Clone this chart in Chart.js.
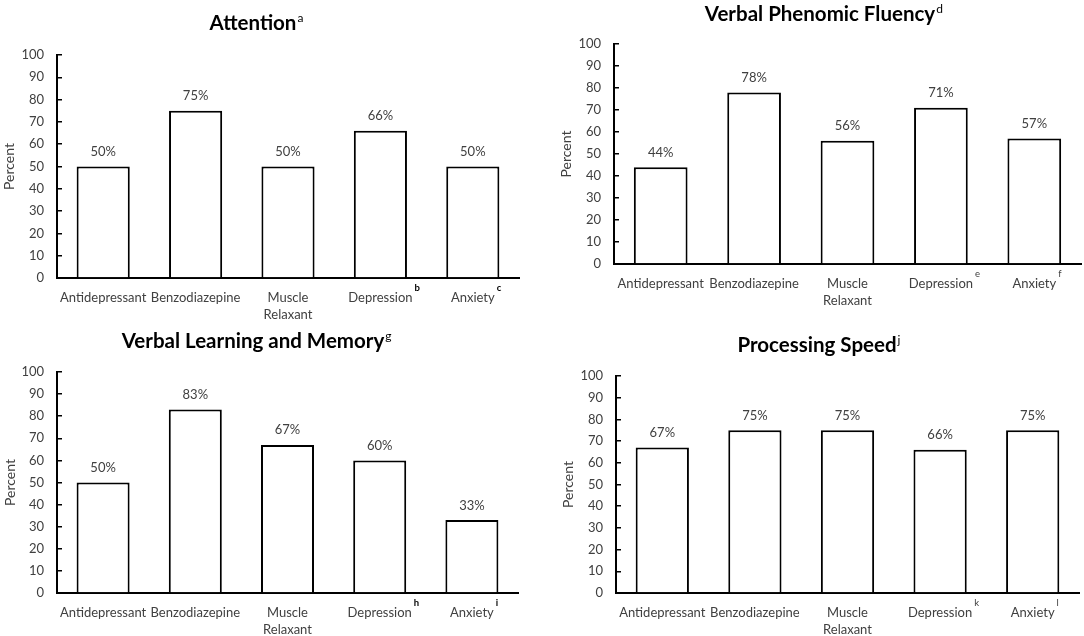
<!DOCTYPE html>
<html>
<head>
<meta charset="utf-8">
<script src="https://cdn.jsdelivr.net/npm/chart.js@4.4.1/dist/chart.umd.min.js"></script>
<style>
  html, body { margin: 0; padding: 0; background: #fff; }
  #wrap { position: relative; width: 1084px; height: 636px; overflow: hidden; background: #fff; }
  .panel { position: absolute; }
  .title { position: absolute; width: 0; height: 24px; font-family: Lato, "Open Sans", sans-serif;
           font-weight: 700; font-size: 20.5px; color: #000; white-space: nowrap; line-height: 1; }
  .title .main { position: absolute; left: 0; top: 0; transform: translateX(-50%); }
  .title .sup { position: absolute; left: 100%; top: 0px; margin-left: 1px; font-size: 12px; font-weight: 400; }
</style>
</head>
<body>
<div id="wrap">
  <div class="panel" style="left:0;top:0;width:540px;height:330px"><canvas id="c1"></canvas></div>
  <div class="panel" style="left:540px;top:0;width:544px;height:330px"><canvas id="c2"></canvas></div>
  <div class="panel" style="left:0;top:318px;width:540px;height:318px"><canvas id="c3"></canvas></div>
  <div class="panel" style="left:540px;top:318px;width:544px;height:318px"><canvas id="c4"></canvas></div>
  <div class="title" id="t1"></div>
  <div class="title" id="t2"></div>
  <div class="title" id="t3"></div>
  <div class="title" id="t4"></div>
</div>
<script>
// ---- data ----
const categories = ["Antidepressant", "Benzodiazepine", ["Muscle", "Relaxant"], "Depression", "Anxiety"];
const attentionValues = [50, 75, 50, 66, 50];
const fluencyValues = [44, 78, 56, 71, 57];
const memoryValues = [50, 83, 67, 60, 33];
const speedValues = [67, 75, 75, 66, 75];
const attentionSup = ["", "", "", "b", "c"];
const fluencySup = ["", "", "", "e", "f"];
const memorySup = ["", "", "", "h", "i"];
const speedSup = ["", "", "", "k", "l"];
const panelTitles = ["Attention", "Verbal Phenomic Fluency", "Verbal Learning and Memory", "Processing Speed"];
const titleSup = ["a", "d", "g", "j"];
const yAxisTitle = "Percent";
const yMin = 0, yMax = 100, yStep = 10;

// ---- layout (styling only) ----
const FONT = 'Lato, "Open Sans", sans-serif';
const TEXT = '#404040';
const layouts = [
  { id: 'c1', w: 540, h: 330, padL: 1,  yW: 56, top: 55, bottom: 278, right: 519, supBold: true },
  { id: 'c2', w: 544, h: 330, padL: 18, yW: 56, top: 44, bottom: 264, right: 541, supBold: false },
  { id: 'c3', w: 540, h: 318, padL: 2,  yW: 55, top: 54, bottom: 275, right: 518, supBold: true },
  { id: 'c4', w: 544, h: 318, padL: 20, yW: 56, top: 58, bottom: 275, right: 539, supBold: false }
];
const titlePos = [
  { cx: 253, top: 12 }, { cx: 820, top: 3 }, { cx: 253, top: 330 }, { cx: 817, top: 334 }
];

const valueLabelPlugin = {
  id: 'valueLabels',
  afterDatasetsDraw(chart) {
    const ctx = chart.ctx;
    const meta = chart.getDatasetMeta(0);
    const data = chart.data.datasets[0].data;
    ctx.save();
    ctx.font = '13px ' + FONT;
    ctx.fillStyle = TEXT;
    ctx.textAlign = 'center';
    ctx.textBaseline = 'alphabetic';
    meta.data.forEach((bar, i) => {
      ctx.fillText(data[i] + '%', bar.x, bar.y - 10.5);
    });
    ctx.restore();
  }
};

const supPlugin = {
  id: 'labelSup',
  afterDraw(chart, args, opts) {
    const sups = opts.sups || [];
    const xs = chart.scales.x;
    const ctx = chart.ctx;
    ctx.save();
    sups.forEach((s, i) => {
      if (!s) return;
      const lab = chart.data.labels[i];
      const text = Array.isArray(lab) ? lab[0] : lab;
      ctx.font = '13px ' + FONT;
      const w = ctx.measureText(text).width;
      const x = xs.getPixelForTick(i) + w / 2 + 2;
      ctx.font = (opts.bold ? '700 ' : '400 ') + '9.5px ' + FONT;
      ctx.fillStyle = opts.bold ? '#000' : TEXT;
      ctx.textAlign = 'left';
      ctx.textBaseline = 'alphabetic';
      ctx.fillText(s, x, chart.chartArea.bottom + 13);
    });
    ctx.restore();
  }
};

function makeChart(L, values, sups) {
  const canvas = document.getElementById(L.id);
  return new Chart(canvas, {
    type: 'bar',
    data: {
      labels: categories,
      datasets: [{
        data: values,
        backgroundColor: '#ffffff',
        borderColor: '#000000',
        borderWidth: 2,
        borderSkipped: 'bottom',
        categoryPercentage: 1,
        barPercentage: 0.575
      }]
    },
    options: {
      responsive: true,
      maintainAspectRatio: false,
      animation: false,
      devicePixelRatio: 1,
      layout: { padding: { left: L.padL, top: L.top, right: L.w - L.right, bottom: 0 } },
      plugins: {
        legend: { display: false },
        tooltip: { enabled: false },
        title: { display: false },
        labelSup: { sups: sups, bold: L.supBold }
      },
      scales: {
        x: {
          offset: true,
          grid: { display: false, drawTicks: false },
          border: { display: true, color: '#000', width: 2 },
          ticks: {
            color: TEXT, padding: 11, maxRotation: 0, autoSkip: false,
            font: { family: FONT, size: 13, lineHeight: 1.3 }
          },
          afterFit(scale) { scale.height = L.h - L.bottom; }
        },
        y: {
          min: yMin, max: yMax,
          grid: { display: true, drawOnChartArea: false, drawTicks: true, tickLength: -5, color: '#000', lineWidth: 1.5 },
          border: { display: true, color: '#000', width: 2 },
          ticks: {
            stepSize: yStep, color: TEXT, padding: 18,
            font: { family: FONT, size: 13 }
          },
          title: {
            display: true, text: yAxisTitle, color: TEXT, padding: 0,
            font: { family: FONT, size: 14 }
          },
          afterFit(scale) { scale.width = L.yW; }
        }
      }
    },
    plugins: [valueLabelPlugin, supPlugin]
  });
}

const allValues = [attentionValues, fluencyValues, memoryValues, speedValues];
const allSups = [attentionSup, fluencySup, memorySup, speedSup];
layouts.forEach((L, i) => makeChart(L, allValues[i], allSups[i]));

panelTitles.forEach((t, i) => {
  const el = document.getElementById('t' + (i + 1));
  const main = document.createElement('span');
  main.className = 'main';
  main.textContent = t;
  const s = document.createElement('span');
  s.className = 'sup';
  s.textContent = titleSup[i];
  main.appendChild(s);
  el.appendChild(main);
  el.style.left = titlePos[i].cx + 'px';
  el.style.top = titlePos[i].top + 'px';
});
</script>
</body>
</html>
